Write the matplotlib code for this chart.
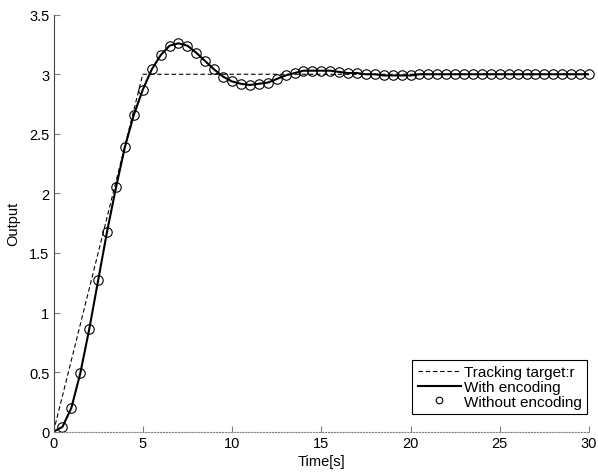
import matplotlib
matplotlib.use("Agg")
import matplotlib.pyplot as plt
import numpy as np

# tracking target r
r_time = [0, 5, 30]
r_vals = [0, 3, 3]

# sampled output, every 0.5 s
t = np.arange(0, 30.5, 0.5)
y_out = [0.00,
         0.04, 0.20, 0.49, 0.86, 1.27, 1.68, 2.05, 2.39, 2.66, 2.87,
         3.04, 3.16, 3.24, 3.26, 3.24, 3.18, 3.11, 3.04, 2.98, 2.94,
         2.92, 2.91, 2.92, 2.93, 2.96, 2.99, 3.01, 3.03, 3.03, 3.03,
         3.03, 3.02, 3.01, 3.01, 3.00, 3.00, 2.99, 2.99, 2.99, 2.99,
         3.00, 3.00, 3.00, 3.00, 3.00, 3.00, 3.00, 3.00, 3.00, 3.00,
         3.00, 3.00, 3.00, 3.00, 3.00, 3.00, 3.00, 3.00, 3.00, 3.00]

plt.rcParams['font.family'] = ['Liberation Sans', 'DejaVu Sans']
plt.rcParams['font.size'] = 10

fig = plt.figure(figsize=(5.98, 4.77), dpi=100)
ax = fig.add_axes([0.0895, 0.0929, 0.8955, 0.8742])

ax.plot(r_time, r_vals, '--', color='black', lw=0.8, dashes=(4, 2.5), label='Tracking target:r')
ax.plot(t, y_out, '-', color='black', lw=1.5, label='With encoding')
ax.plot(t[1:], y_out[1:], 'o', mfc='none', mec='black', mew=0.8, ms=6.8,
        label='Without encoding', clip_on=False)

ax.set_xlim(0, 30)
ax.set_ylim(0, 3.5)
ax.set_xticks([0, 5, 10, 15, 20, 25, 30])
ax.set_yticks([0, 0.5, 1, 1.5, 2, 2.5, 3, 3.5])
ax.set_yticklabels(['0', '0.5', '1', '1.5', '2', '2.5', '3', '3.5'])
ax.set_xlabel('Time[s]', fontsize=10.5, labelpad=3)
ax.set_ylabel('Output', fontsize=10.5)
ax.yaxis.set_label_coords(-0.063, 0.5)

ax.spines['top'].set_visible(False)
ax.spines['right'].set_visible(False)
ax.spines['bottom'].set_color('gray')
ax.spines['bottom'].set_linestyle(':')
ax.spines['left'].set_color('#444444')
ax.tick_params(direction='in', length=4, color='gray', pad=3, labelsize=10.5)

leg = ax.legend(loc='lower right', bbox_to_anchor=(0.996, 0.042), borderaxespad=0,
                fancybox=False, edgecolor='black', framealpha=1, handlelength=2.8,
                handletextpad=0.2, labelspacing=0.05, borderpad=0.35,
                fontsize=11, markerscale=0.7)
leg.get_frame().set_linewidth(0.8)

fig.savefig('out.png', dpi=100)
